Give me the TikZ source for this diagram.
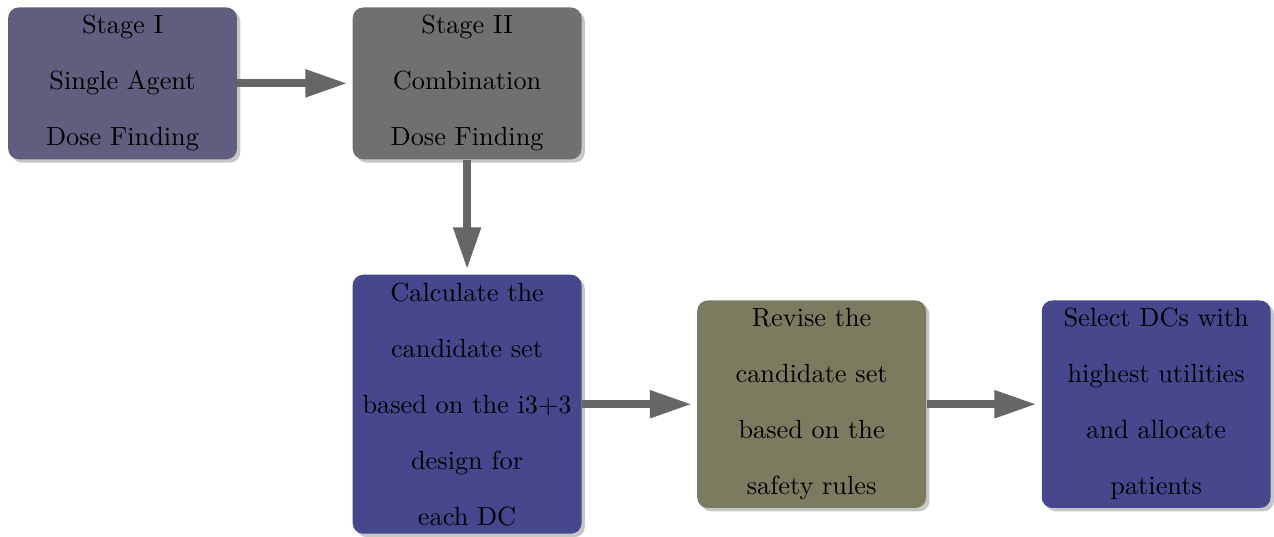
\documentclass[tikz,border=0pt]{standalone}
\usepackage{tikz}
\usetikzlibrary{arrows.meta,positioning,shadows}

\definecolor{stageone}{RGB}{95,94,127}
\definecolor{stagetwo}{RGB}{112,112,112}
\definecolor{calcblue}{RGB}{71,71,142}
\definecolor{reviseolive}{RGB}{123,123,96}
\definecolor{arrowgray}{RGB}{102,102,102}

\begin{document}
\begin{tikzpicture}[
  node distance=43.6pt,
  box/.style={rounded corners=4pt, text width=85pt,
    align=center, inner xsep=1pt, inner ysep=3pt,
    execute at begin node=\setlength{\baselineskip}{21.3pt},
    drop shadow={shadow xshift=1.3pt, shadow yshift=-1.3pt, opacity=0.45}},
  flow/.style={-{Triangle[length=16pt, width=9.9pt]}, line width=3pt,
    arrowgray, shorten >=1.8pt}
]

\useasboundingbox (-46.6pt,31.7pt) rectangle (437.8pt,-172.1pt);

\node[box, fill=stageone] (stageI) at (0,0)
  {Stage I\\Single Agent\\Dose Finding};
\node[box, fill=stagetwo, right=of stageI] (stageII)
  {Stage II\\Combination\\Dose Finding};
\node[box, fill=calcblue, below=43.5pt of stageII] (calc)
  {Calculate the\\candidate set\\based on the i3+3\\design for\\each DC};
\node[box, fill=reviseolive, right=of calc] (revise)
  {Revise the\\candidate set\\based on the\\safety rules};
\node[box, fill=calcblue, right=of revise] (select)
  {Select DCs with\\highest utilities\\and allocate\\patients};

\draw[flow] (stageI) -- (stageII);
\draw[flow] (stageII) -- (calc);
\draw[flow] (calc) -- (revise);
\draw[flow] (revise) -- (select);

\end{tikzpicture}
\end{document}
